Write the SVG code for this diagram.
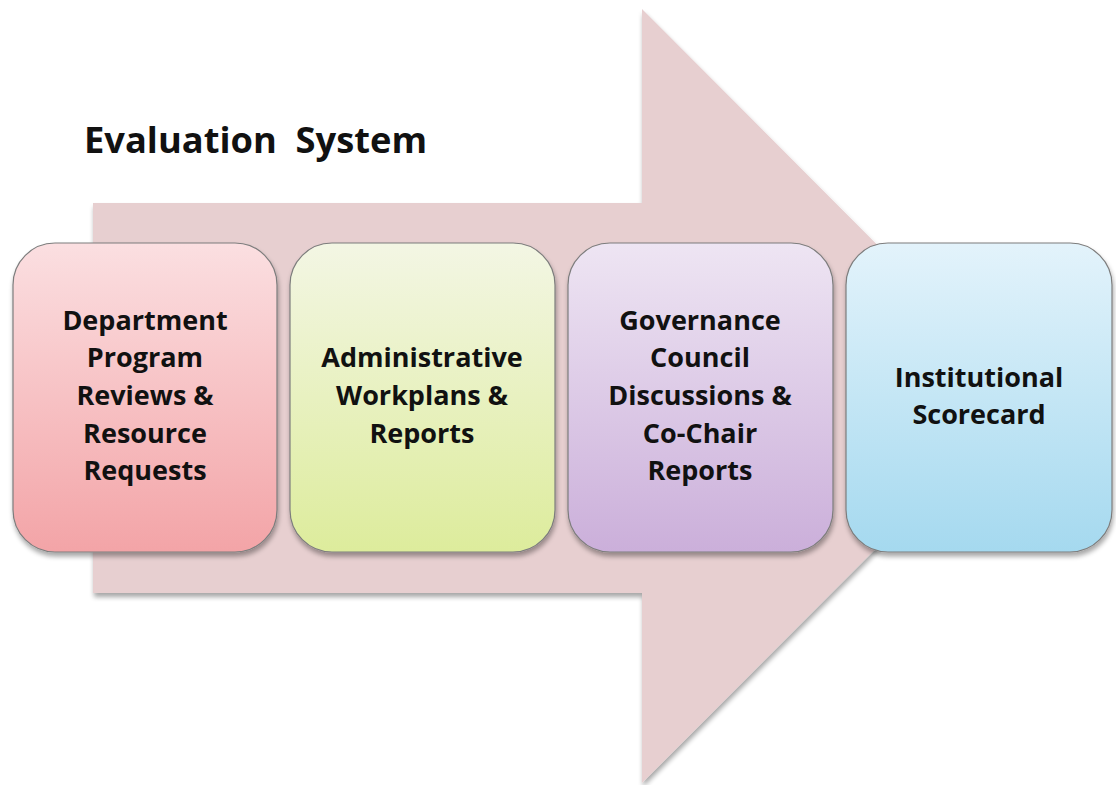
<svg xmlns="http://www.w3.org/2000/svg" width="1116" height="785" viewBox="0 0 1116 785">
  <defs>
    <linearGradient id="g1" x1="0" y1="0" x2="0" y2="1">
      <stop offset="0" stop-color="#fbdfe1"/>
      <stop offset="1" stop-color="#f3a4a7"/>
    </linearGradient>
    <linearGradient id="g2" x1="0" y1="0" x2="0" y2="1">
      <stop offset="0" stop-color="#f3f6e4"/>
      <stop offset="1" stop-color="#ddec9c"/>
    </linearGradient>
    <linearGradient id="g3" x1="0" y1="0" x2="0" y2="1">
      <stop offset="0" stop-color="#eee5f3"/>
      <stop offset="1" stop-color="#cbafda"/>
    </linearGradient>
    <linearGradient id="g4" x1="0" y1="0" x2="0" y2="1">
      <stop offset="0" stop-color="#e3f3fb"/>
      <stop offset="1" stop-color="#a5d9ef"/>
    </linearGradient>
    <filter id="sh" x="-10%" y="-10%" width="120%" height="120%">
      <feGaussianBlur in="SourceAlpha" stdDeviation="2.5"/>
      <feOffset dx="1" dy="4" result="b"/>
      <feComponentTransfer><feFuncA type="linear" slope="0.35"/></feComponentTransfer>
      <feMerge><feMergeNode/><feMergeNode in="SourceGraphic"/></feMerge>
    </filter>
  </defs>
  <style>
    .box { stroke: #7d7d7d; stroke-width: 1.2; filter: url(#sh); }
    .lbl { font-family: "Open Sans", "Liberation Sans", sans-serif; font-weight: bold; font-size: 27px; fill: #111; text-anchor: middle; }
    .title { font-family: "Open Sans", "Liberation Sans", sans-serif; font-weight: bold; font-size: 36px; fill: #111; }
  </style>
  <rect width="1116" height="785" fill="#ffffff"/>
  <g id="arrow">
    <polygon points="93,203 642,203 642,9 1028,396 642,783 642,593 93,593" fill="#e7cfd0" filter="url(#sh)"/>
  </g>
  <g id="title">
    <text class="title" x="84" y="153" xml:space="preserve" textLength="343" lengthAdjust="spacingAndGlyphs">Evaluation  System</text>
  </g>
  <g id="connectors"></g>
  <g id="node1">
    <rect class="box" x="13" y="243" width="264" height="309" rx="42" ry="42" fill="url(#g1)"/>
    <text class="lbl" x="145" y="330">Department</text>
    <text class="lbl" x="145" y="367">Program</text>
    <text class="lbl" x="145" y="405">Reviews &amp;</text>
    <text class="lbl" x="145" y="443">Resource</text>
    <text class="lbl" x="145" y="480">Requests</text>
  </g>
  <g id="node2">
    <rect class="box" x="290" y="243" width="265" height="309" rx="42" ry="42" fill="url(#g2)"/>
    <text class="lbl" x="422" y="367">Administrative</text>
    <text class="lbl" x="422" y="405">Workplans &amp;</text>
    <text class="lbl" x="422" y="443">Reports</text>
  </g>
  <g id="node3">
    <rect class="box" x="568" y="243" width="265" height="309" rx="42" ry="42" fill="url(#g3)"/>
    <text class="lbl" x="700" y="330">Governance</text>
    <text class="lbl" x="700" y="367">Council</text>
    <text class="lbl" x="700" y="405">Discussions &amp;</text>
    <text class="lbl" x="700" y="443">Co-Chair</text>
    <text class="lbl" x="700" y="480">Reports</text>
  </g>
  <g id="node4">
    <rect class="box" x="846" y="243" width="266" height="309" rx="42" ry="42" fill="url(#g4)"/>
    <text class="lbl" x="979" y="387">Institutional</text>
    <text class="lbl" x="979" y="424">Scorecard</text>
  </g>
</svg>
